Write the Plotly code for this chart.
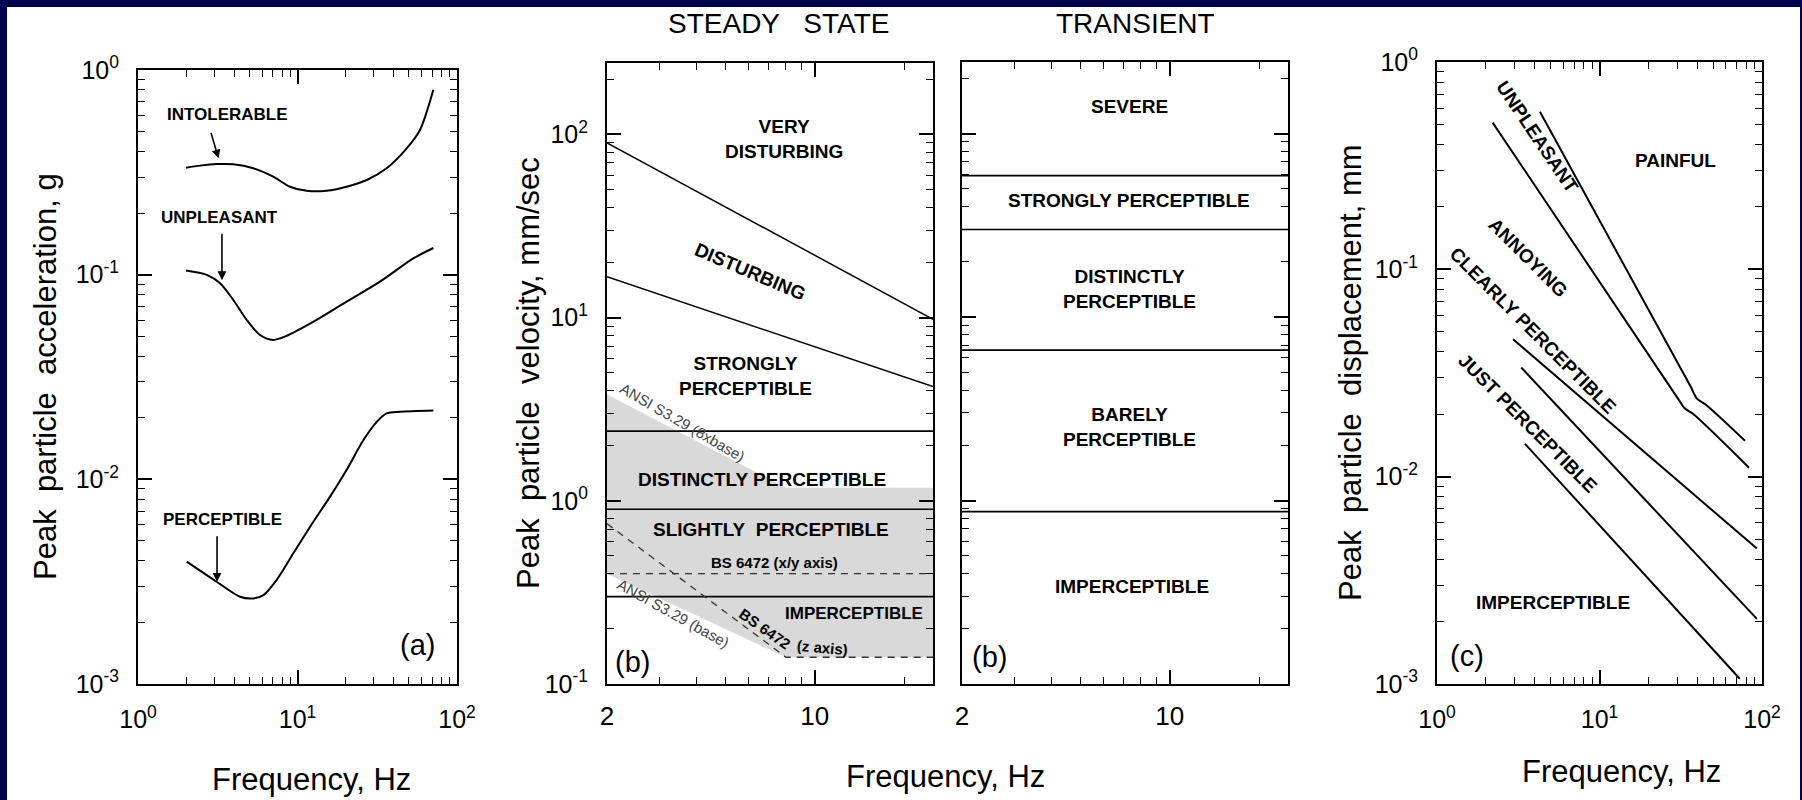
import math
import plotly.graph_objects as go

W, H = 1802, 800
FONT = "Liberation Sans, Arial, sans-serif"
NAVY = "#00004e"
GRAY_FILL = "#d9d9d9"

# ---------------- (a) peak particle acceleration, g ----------------
intolerable_f = [2.0, 2.45, 3.11, 3.96, 5.28, 7.05, 8.97, 11.4, 15.2, 20.3, 27.2, 36.2, 48.4, 58.6, 71.1]
intolerable_a = [0.333, 0.341, 0.347, 0.346, 0.331, 0.301, 0.269, 0.257, 0.257, 0.269, 0.290, 0.331, 0.414, 0.509, 0.80]

unpleasant_f = [2.0, 2.70, 3.27, 3.96, 4.80, 5.82, 7.05, 8.55, 12.6, 20.3, 32.9, 53.2, 71.1]
unpleasant_a = [0.1047, 0.0997, 0.0908, 0.0752, 0.0601, 0.0507, 0.048, 0.0502, 0.0589, 0.0738, 0.0924, 0.120, 0.135]

perceptible_f = [2.02, 3.11, 4.36, 5.28, 6.11, 7.41, 9.42, 12.0, 16.0, 20.3, 25.9, 31.4, 36.2, 43.9, 71.1]
perceptible_a = [0.00396, 0.00316, 0.00267, 0.00262, 0.00272, 0.00323, 0.00435, 0.00587, 0.00823,
                 0.0111, 0.01556, 0.0191, 0.0210, 0.0214, 0.0217]

a_labels = ["INTOLERABLE", "UNPLEASANT", "PERCEPTIBLE"]
a_label_f = [3.66, 3.22, 3.41]
a_label_v = [0.603, 0.191, 0.00634]
a_arrow_f = [3.2, 3.36, 3.13]
a_arrow_v = [0.37, 0.094, 0.00316]
a_arrow_len = [27, 48, 47]

# ---------------- (b) steady state, peak particle velocity, mm/sec ----------------
steady_f = [2, 25]
very_disturbing_v = [90, 9.8]
disturbing_v = [16.7, 4.2]
steady_levels = [2.4, 0.9, 0.3]

ansi_upper_f = [2, 8, 25]
ansi_upper_v = [3.8, 1.18, 1.18]
ansi_lower_f = [2, 8, 25]
ansi_lower_v = [0.40, 0.14, 0.14]

bs_xy_f = [2, 25]
bs_xy_v = [0.40, 0.40]
bs_z_f = [2, 8, 25]
bs_z_v = [0.75, 0.14, 0.14]

steady_labels = ["VERY<br>DISTURBING", "DISTURBING", "STRONGLY<br>PERCEPTIBLE", "DISTINCTLY PERCEPTIBLE",
                 "SLIGHTLY\u00a0\u00a0PERCEPTIBLE", "IMPERCEPTIBLE"]
steady_label_f = [7.91, 6.04, 5.85, 6.67, 7.10, 13.6]
steady_label_v = [94, 17.8, 4.82, 1.30, 0.695, 0.244]
steady_label_angle = [0, 23, 0, 0, 0, 0]

std_notes = ["ANSI S3.29 (8xbase)", "ANSI S3.29 (base)", "BS 6472 (x/y axis)", "BS 6472", "(z axis)"]
std_note_f = [3.6, 3.36, 7.33, 6.78, 10.6]
std_note_v = [2.67, 0.244, 0.458, 0.202, 0.159]
std_note_angle = [30, 29, 0, 35, 5]

# ---------------- (b) transient ----------------
transient_f = [2, 25]
transient_levels = [59, 30, 6.6, 0.87]
transient_labels = ["SEVERE", "STRONGLY PERCEPTIBLE", "DISTINCTLY<br>PERCEPTIBLE", "BARELY<br>PERCEPTIBLE",
                    "IMPERCEPTIBLE"]
transient_label_f = [7.3, 7.3, 7.3, 7.3, 7.46]
transient_label_v = [140.6, 43, 14.2, 2.51, 0.339]

# ---------------- (c) peak particle displacement, mm ----------------
c_line1_f = [4.3, 36.1, 39.8, 45.9, 78.6]
c_line1_d = [0.575, 0.0275, 0.0238, 0.0220, 0.0149]
c_line2_f = [2.2, 30.4, 33.6, 37.6, 83.2]
c_line2_d = [0.51, 0.0238, 0.0213, 0.0201, 0.01105]
c_line3_f = [2.94, 93]
c_line3_d = [0.046, 0.0045]
c_line4_f = [3.3, 93]
c_line4_d = [0.0336, 0.00206]
c_line5_f = [3.48, 73]
c_line5_d = [0.0144, 0.00106]

c_labels = ["UNPLEASANT", "PAINFUL", "ANNOYING", "CLEARLY PERCEPTIBLE", "JUST PERCEPTIBLE", "IMPERCEPTIBLE"]
c_label_f = [4.12, 29.2, 3.63, 3.90, 3.63, 5.18]
c_label_v = [0.435, 0.336, 0.114, 0.0507, 0.018, 0.00246]
c_label_angle = [56, 0, 45, 45, 45, 0]

panel_tags = ["(a)", "(b)", "(b)", "(c)"]
panel_tag_f = [56.9, 2.44, 2.48, 1.53]
panel_tag_v = [0.00155, 0.132, 0.141, 0.00136]

# tick values
decade_labels = {-3: "10<sup>-3</sup>", -2: "10<sup>-2</sup>", -1: "10<sup>-1</sup>",
                 0: "10<sup>0</sup>", 1: "10<sup>1</sup>", 2: "10<sup>2</sup>"}


def minors(lo, hi):
    out = []
    for e in range(lo, hi):
        for m in range(2, 10):
            out.append(m * 10 ** e)
    return out


def px(x):
    return x / W


def py(y):
    return 1 - y / H


def log_axis(domain, rng, tickvals, ticktext, minorvals, anchor, show_labels=True, tsize=25, standoff=10):
    return dict(type="log", domain=domain, range=rng, anchor=anchor, automargin=False,
                tickmode="array", tickvals=tickvals, ticktext=ticktext,
                ticks="inside", ticklen=14, tickwidth=1.6, tickcolor="black",
                showline=True, linecolor="black", linewidth=2, mirror="allticks",
                showgrid=False, zeroline=False, showticklabels=show_labels,
                ticklabelstandoff=standoff,
                tickfont=dict(family=FONT, size=tsize, color="black"),
                minor=dict(tickvals=minorvals, ticks="inside", ticklen=7, tickwidth=1.4,
                           tickcolor="black", showgrid=False))


fig = go.Figure()


def line(xs, ys, ax, width=1.8, color="black", dash="solid", shape="linear"):
    fig.add_trace(go.Scatter(x=xs, y=ys, mode="lines", xaxis="x" + ax, yaxis="y" + ax,
                             line=dict(color=color, width=width, dash=dash, shape=shape,
                                       smoothing=0.8 if shape == "spline" else None),
                             hoverinfo="skip", showlegend=False))


# (a)
for fx, ay in [(intolerable_f, intolerable_a), (unpleasant_f, unpleasant_a), (perceptible_f, perceptible_a)]:
    line(fx, ay, "", width=2, shape="spline")

# (b) steady: shaded ANSI band first
band_f = ansi_upper_f + ansi_lower_f[::-1]
band_v = ansi_upper_v + ansi_lower_v[::-1]
fig.add_trace(go.Scatter(x=band_f, y=band_v, mode="lines", fill="toself", fillcolor=GRAY_FILL,
                         line=dict(width=0, color=GRAY_FILL), xaxis="x2", yaxis="y2",
                         hoverinfo="skip", showlegend=False))
line(steady_f, very_disturbing_v, "2", width=1.5)
line(steady_f, disturbing_v, "2", width=1.5)
for lv in steady_levels:
    line(steady_f, [lv, lv], "2", width=1.6)
line(bs_xy_f, bs_xy_v, "2", width=1.3, color="#333333", dash="7px,6px")
line(bs_z_f, bs_z_v, "2", width=1.3, color="#333333", dash="7px,6px")

# (b) transient
for lv in transient_levels:
    line(transient_f, [lv, lv], "3", width=1.6)

# (c)
for fx, dy in [(c_line1_f, c_line1_d), (c_line2_f, c_line2_d), (c_line3_f, c_line3_d),
               (c_line4_f, c_line4_d), (c_line5_f, c_line5_d)]:
    line(fx, dy, "4", width=2, shape="spline")

fig.update_layout(
    width=W, height=H, margin=dict(l=0, r=0, t=0, b=0, pad=0, autoexpand=False),
    paper_bgcolor=NAVY, plot_bgcolor="white", showlegend=False,
    xaxis=log_axis([px(138), px(457)], [0, 2], [1, 10, 100],
                   [decade_labels[0], decade_labels[1], decade_labels[2]], minors(0, 2), "y", standoff=12),
    yaxis=log_axis([py(684), py(70)], [-3, 0], [1e-3, 1e-2, 1e-1, 1],
                   [decade_labels[-3], decade_labels[-2], decade_labels[-1], decade_labels[0]],
                   minors(-3, 0), "x", standoff=12),
    xaxis2=log_axis([px(607), px(933)], [math.log10(2), math.log10(25)], [2, 10], ["2", "10"],
                    [3, 4, 5, 6, 7, 8, 9, 20], "y2", tsize=26, standoff=8),
    yaxis2=log_axis([py(684), py(63)], [-1, 2.39], [0.1, 1, 10, 100],
                    [decade_labels[-1], decade_labels[0], decade_labels[1], decade_labels[2]],
                    minors(-1, 3), "x2", standoff=12),
    xaxis3=log_axis([px(962), px(1288)], [math.log10(2), math.log10(25)], [2, 10], ["2", "10"],
                    [3, 4, 5, 6, 7, 8, 9, 20], "y3", tsize=26, standoff=8),
    yaxis3=log_axis([py(684), py(62)], [-1, 2.39], [0.1, 1, 10, 100], ["", "", "", ""],
                    minors(-1, 3), "x3", show_labels=False),
    xaxis4=log_axis([px(1437), px(1762)], [0, 2], [1, 10, 100],
                    [decade_labels[0], decade_labels[1], decade_labels[2]], minors(0, 2), "y4", standoff=12),
    yaxis4=log_axis([py(684), py(62)], [-3, 0], [1e-3, 1e-2, 1e-1, 1],
                    [decade_labels[-3], decade_labels[-2], decade_labels[-1], decade_labels[0]],
                    minors(-3, 0), "x4", standoff=12),
    shapes=[dict(type="rect", xref="paper", yref="paper", x0=px(7), x1=px(1800), y0=0, y1=py(7),
                 fillcolor="white", line=dict(width=0), layer="below")],
)

ann = []


def label(text, f, v, ax, size=19, angle=0, bold=True, color="black"):
    t = "<b>" + text + "</b>" if bold else text
    ann.append(dict(text=t, x=math.log10(f), y=math.log10(v), xref="x" + ax, yref="y" + ax,
                    showarrow=False, textangle=angle,
                    font=dict(family=FONT, size=size, color=color)))


def paper_text(text, x, y, size, angle=0):
    ann.append(dict(text=text, x=px(x), y=py(y), xref="paper", yref="paper", showarrow=False,
                    textangle=angle, xanchor="center", yanchor="middle",
                    font=dict(family=FONT, size=size, color="black")))


# (a) labels with arrows
for t, f, v in zip(a_labels, a_label_f, a_label_v):
    label(t, f, v, "", size=17)
for f, v, L, dx in zip(a_arrow_f, a_arrow_v, a_arrow_len, [-8, 0, 0]):
    ann.append(dict(text="", x=math.log10(f), y=math.log10(v), xref="x", yref="y",
                    showarrow=True, ax=dx, ay=-L, arrowhead=2, arrowsize=1.1,
                    arrowwidth=1.6, arrowcolor="black"))

for t, f, v, a in zip(steady_labels, steady_label_f, steady_label_v, steady_label_angle):
    label(t, f, v, "2", size=19 if t != "IMPERCEPTIBLE" else 17, angle=a)
for t, f, v, a in zip(std_notes, std_note_f, std_note_v, std_note_angle):
    if t.startswith("ANSI"):
        label(t, f, v, "2", size=15, angle=a, bold=False, color="#444444")
    else:
        label(t, f, v, "2", size=15, angle=a)

for t, f, v in zip(transient_labels, transient_label_f, transient_label_v):
    label(t, f, v, "3", size=19)

for t, f, v, a in zip(c_labels, c_label_f, c_label_v, c_label_angle):
    label(t, f, v, "4", size=19, angle=a)

for t, f, v, ax in zip(panel_tags, panel_tag_f, panel_tag_v, ["", "2", "3", "4"]):
    label(t, f, v, ax, size=29, bold=False)

# axis titles and column headings
sp = "\u00a0\u00a0"
paper_text("Peak" + sp + "particle" + sp + "acceleration, g", 46, 377, 31, -90)
paper_text("Peak" + sp + "particle" + sp + "velocity, mm/sec", 528, 373, 31, -90)
paper_text("Peak" + sp + "particle" + sp + "displacement, mm", 1350, 373, 31, -90)
paper_text("Frequency, Hz", 311, 779, 31)
paper_text("Frequency, Hz", 946, 776, 31)
paper_text("Frequency, Hz", 1621, 771, 31)
paper_text("STEADY\u00a0\u00a0\u00a0STATE", 778, 23, 28)
paper_text("TRANSIENT", 1135, 23, 28)

fig.update_layout(annotations=ann)
fig.write_html("out.html")
